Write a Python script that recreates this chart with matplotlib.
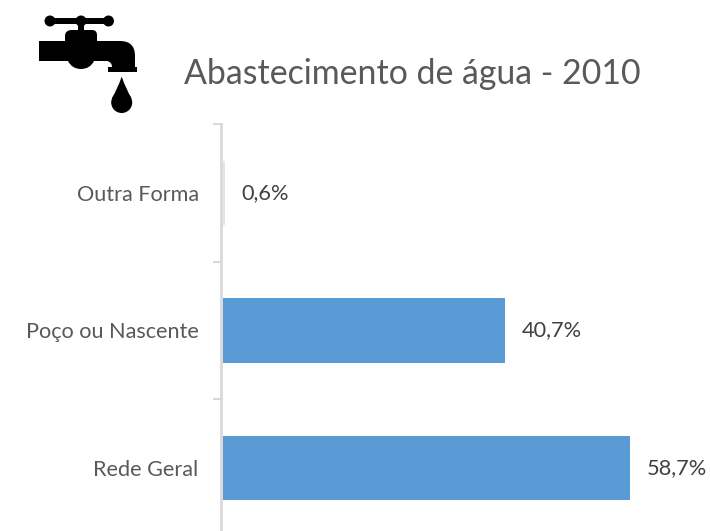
#!/usr/bin/env python3
"""Abastecimento de agua - 2010: horizontal bars with a faucet icon."""

import matplotlib
matplotlib.use('Agg')
import matplotlib.pyplot as plt
from matplotlib.patches import Circle, PathPatch, Rectangle
from matplotlib.path import Path

# === Data ===
categories = ['Rede Geral', 'Poço ou Nascente', 'Outra Forma']
bar_values = [58.7, 40.6, 0.2]  # last one is drawn only about 1 px wide in the picture
value_labels = ['58,7%', '40,7%', '0,6%']
bar_colors = ['#5b9bd5', '#5b9bd5', '#dce6f2']

W, H = 710, 531
plt.rcParams['font.family'] = ['Lato', 'DejaVu Sans']

fig = plt.figure(figsize=(W / 100, H / 100), dpi=100)

# axes in pixel terms: left spine x=221.5, top y=124, last band runs past the bottom edge
ax = fig.add_axes([221.5 / W, (H - 537) / H, (W - 221.5) / W, 413 / H])
ax.patch.set_alpha(0)
ax.set_xlim(0, (W - 221.5) / 6.93)
ax.set_ylim(-0.5, 2.5)

ypos = range(len(categories))
bars = ax.barh(ypos, bar_values, height=0.4655, left=0.26, color=bar_colors, clip_on=False)

for bar, txt in zip(bars, value_labels):
    ax.annotate(txt, (bar.get_x() + bar.get_width(), bar.get_y() + bar.get_height() / 2),
                xytext=(12.3, 0), textcoords='offset points',
                ha='left', va='center', fontsize=15.7, color='#404040')

for s in ['top', 'right', 'bottom']:
    ax.spines[s].set_visible(False)
ax.spines['left'].set_color('#d9d9d9')
ax.spines['left'].set_linewidth(2)

ax.set_xticks([])
ax.set_yticks(list(ypos))
ax.set_yticklabels(categories, fontsize=15.6, color='#595959')
ax.tick_params(axis='y', which='major', length=0, pad=16.4)
ax.set_yticks([-0.5, 0.5, 1.5, 2.5], minor=True)
ax.tick_params(axis='y', which='minor', length=6, width=1.5, color='#d9d9d9')

fig.text(184 / W, 1 - 74 / H, 'Abastecimento de água - 2010',
         ha='left', va='center', fontsize=24.4, color='#595959')

# === Faucet icon, in pixel coords ===
icon = fig.add_axes([0, 0, 1, 1])
icon.set_xlim(0, W)
icon.set_ylim(H, 0)
icon.axis('off')
icon.patch.set_alpha(0)

M, L, C = Path.MOVETO, Path.LINETO, Path.CURVE3
body = [
    ((39, 41), M), ((65, 41), L), ((65, 36), L), ((65, 30), C), ((72, 30), C),
    ((92, 30), L), ((97, 30), C), ((97, 35), C), ((97, 41), L), ((120, 41), L),
    ((135, 41), C), ((135, 56), C), ((135, 67), L), ((137, 67), L), ((137, 72), L),
    ((108, 72), L), ((108, 67), L), ((112, 67), L), ((112, 62), C), ((107, 61), C),
    ((94, 61), L), ((90, 69), C), ((81, 69), C), ((72, 69), C), ((68, 61), C),
    ((39, 61), L), ((39, 41), L),
]
verts, codes = zip(*body)
icon.add_patch(PathPatch(Path(verts, codes), fc='black', ec='none'))

icon.add_patch(Rectangle((50, 18), 59, 6, fc='black', ec='none'))
icon.add_patch(Rectangle((78, 20), 6, 12, fc='black', ec='none'))
for cx in (50, 81, 108.5):
    icon.add_patch(Circle((cx, 21), 5.5, fc='black', ec='none'))

# drop: pointed top blending into a round bottom
drop = Path(
    [(121.7, 76.7), (117, 90), (112, 98), (121.7, 98), (131.4, 98), (126.4, 90), (121.7, 76.7)],
    [M, C, C, L, L, C, C],
)
icon.add_patch(PathPatch(drop, fc='black', ec='none'))
icon.add_patch(Circle((121.7, 102.5), 10.5, fc='black', ec='none'))

fig.savefig('out.png', dpi=100)
